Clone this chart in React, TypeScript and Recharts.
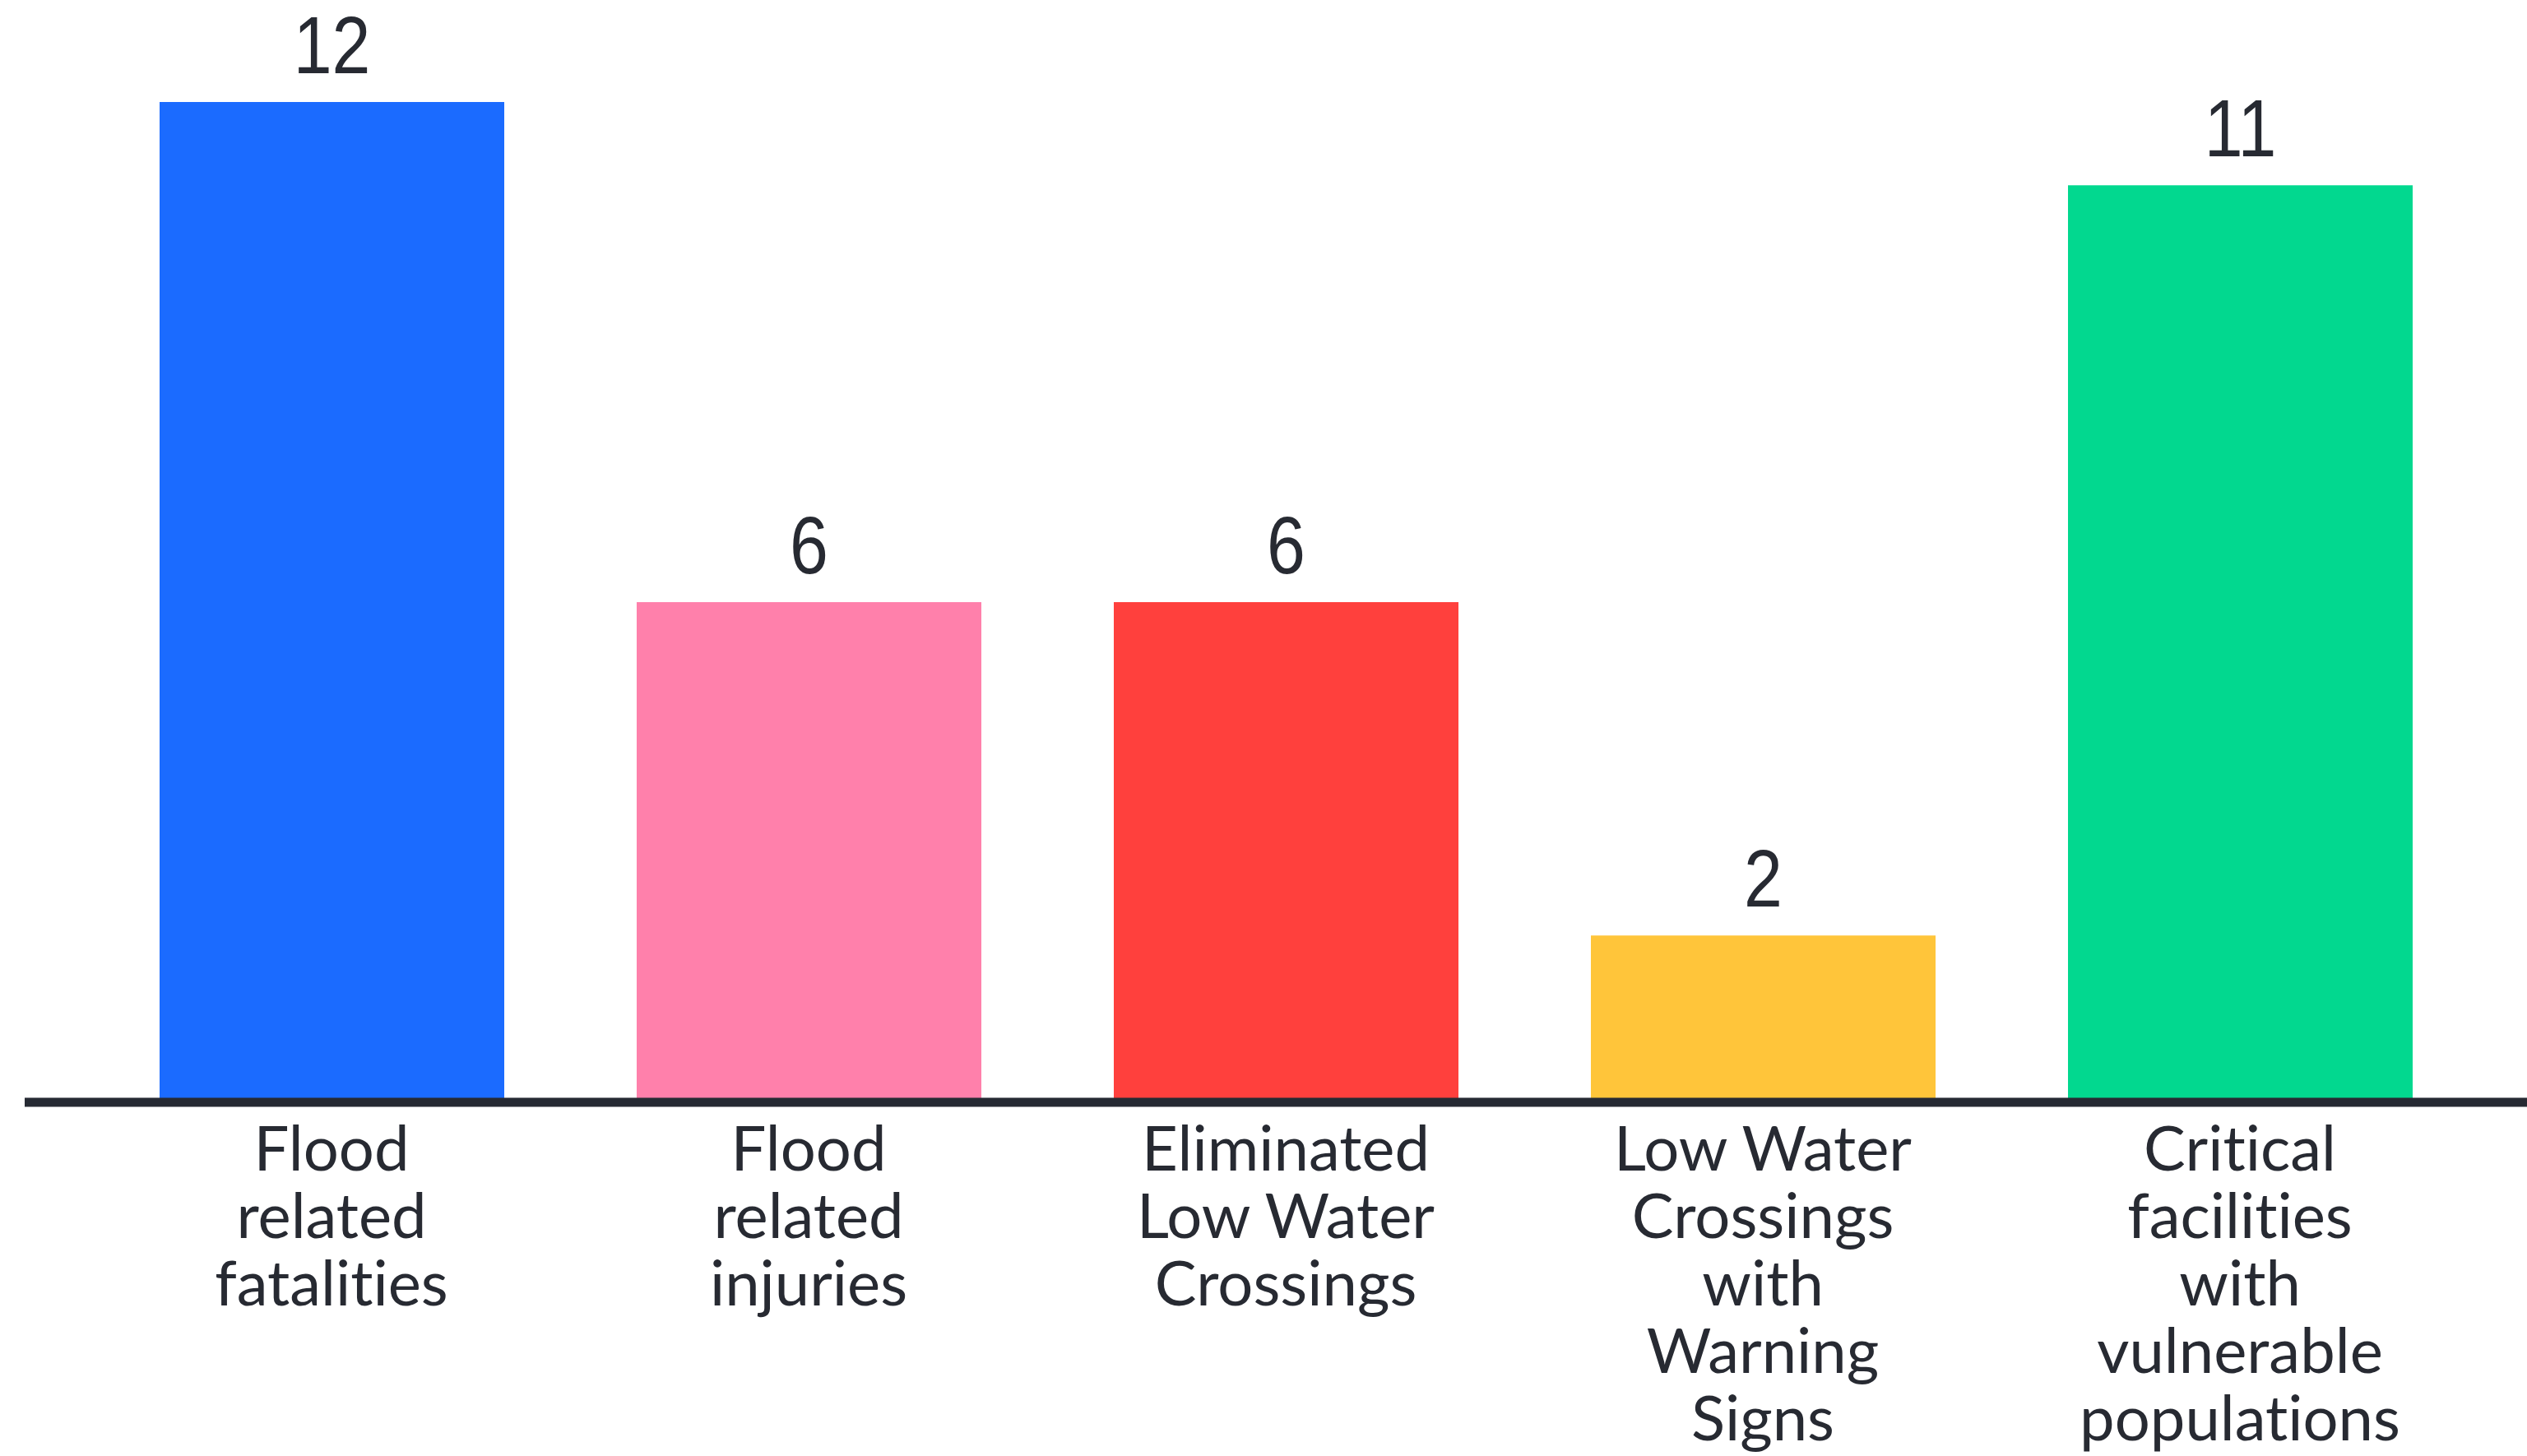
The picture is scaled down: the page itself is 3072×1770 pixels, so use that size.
import React from "react";
import { BarChart, Bar, XAxis, YAxis, Cell, LabelList } from "recharts";

const categories = [
  "Flood related fatalities",
  "Flood related injuries",
  "Eliminated Low Water Crossings",
  "Low Water Crossings with Warning Signs",
  "Critical facilities with vulnerable populations",
];
const tickLines: string[][] = [
  ["Flood", "related", "fatalities"],
  ["Flood", "related", "injuries"],
  ["Eliminated", "Low Water", "Crossings"],
  ["Low Water", "Crossings", "with", "Warning", "Signs"],
  ["Critical", "facilities", "with", "vulnerable", "populations"],
];
const values = [12, 6, 6, 2, 11];
const colors = ["#1B6BFF", "#FF80AB", "#FF403D", "#FFC53A", "#02D88F"];

const data = categories.map((c, i) => ({ name: c, value: values[i], idx: i }));

const TEXT = "#272A32";

const MultiTick = (props: any) => {
  const { x, y, payload } = props;
  const lines = tickLines[payload.index] || [String(payload.value)];
  return (
    <g transform={`translate(${x},${y})`}>
      {lines.map((l, i) => (
        <text
          key={i}
          x={0}
          y={83 + i * 82}
          textAnchor="middle"
          fill={TEXT}
          fontFamily="Lato, 'Open Sans', sans-serif"
          fontSize={76}
          style={{ fontVariantLigatures: "none", fontFeatureSettings: "'liga' 0, 'clig' 0" }}
        >
          {l}
        </text>
      ))}
    </g>
  );
};

const ValueLabel = (props: any) => {
  const { x, y, width, value } = props;
  const cx = Number(x) + Number(width) / 2;
  const by = Number(y) - 35;
  return (
    <text
      transform={`translate(${cx},${by}) scale(0.86,1)`}
      x={0}
      y={0}
      textAnchor="middle"
      fill={TEXT}
      fontSize={98}
      fontFamily="'Liberation Sans', Arial, sans-serif"
    >
      {value}
    </text>
  );
};

export default function App() {
  return (
    <div style={{ width: 3072, height: 1770, background: "#fff" }}>
      <style>{`body{margin:0;}`}</style>
      <BarChart
        width={3072}
        height={1770}
        data={data}
        margin={{ top: 124, right: 0, bottom: 0, left: 30 }}
      >
        <YAxis hide domain={[0, 12]} />
        <XAxis
          dataKey="name"
          height={430}
          interval={0}
          tickLine={false}
          tickSize={0}
          tickMargin={0}
          padding={{ left: 83, right: 59 }}
          axisLine={{ stroke: "#262A33", strokeWidth: 11 }}
          tick={<MultiTick />}
        />
        <Bar dataKey="value" barSize={419} isAnimationActive={false}>
          {data.map((d, i) => (
            <Cell key={i} fill={colors[i]} />
          ))}
          <LabelList dataKey="value" content={<ValueLabel />} />
        </Bar>
      </BarChart>
    </div>
  );
}
